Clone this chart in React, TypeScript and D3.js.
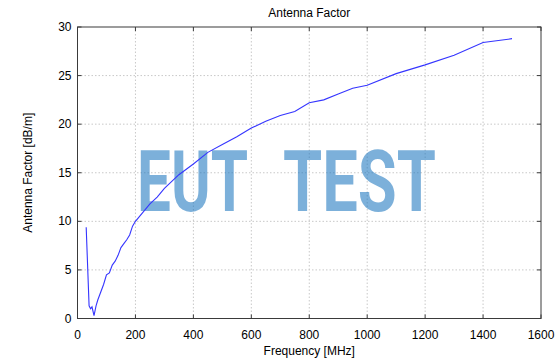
import React from "react";
import * as d3 from "d3";

const freqs = [30, 40, 45, 50, 57, 64, 70, 80, 90, 100, 110, 120, 130, 140, 150, 160, 170, 180, 190, 200, 225, 250, 275, 300, 350, 400, 450, 500, 550, 600, 650, 700, 750, 800, 850, 900, 950, 1000, 1100, 1200, 1300, 1400, 1500];
const antennaFactor = [9.4, 1.3, 1.0, 1.2, 0.3, 1.3, 1.9, 2.7, 3.5, 4.5, 4.7, 5.5, 5.9, 6.5, 7.3, 7.7, 8.1, 8.6, 9.5, 10.0, 10.9, 11.8, 12.5, 13.4, 14.8, 15.9, 17.1, 17.9, 18.7, 19.6, 20.3, 20.9, 21.3, 22.2, 22.5, 23.1, 23.7, 24.0, 25.2, 26.1, 27.1, 28.4, 28.8];
const xTicks = [0, 200, 400, 600, 800, 1000, 1200, 1400, 1600];
const yTicks = [0, 5, 10, 15, 20, 25, 30];
const watermarkWords = ["EUT", "TEST"];

const W = 560;
const H = 361;
const M = { left: 77.5, right: 541, top: 27, bottom: 318.5 };
const FONT = "'Liberation Sans', Arial, sans-serif";

export default function App() {
  const x = d3.scaleLinear().domain([0, 1600]).range([M.left, M.right]);
  const y = d3.scaleLinear().domain([0, 30]).range([M.bottom, M.top]);
  const data = freqs.map((f, i) => [f, antennaFactor[i]] as [number, number]);
  const line = d3
    .line<[number, number]>()
    .x((d) => x(d[0]))
    .y((d) => y(d[1]));
  const tk = 4;
  const wm = [
    { x: 137, w: 111 },
    { x: 283, w: 153 },
  ];

  return (
    <svg
      width={W}
      height={H}
      style={{ position: "absolute", left: 0, top: 0, background: "#fff" }}
      fontFamily={FONT}
    >
      <rect x={0} y={0} width={W} height={H} fill="#fff" />
      {/* grid */}
      <g stroke="#c8c8c8" strokeWidth={1} strokeDasharray="1.5,2">
        {xTicks.slice(1, -1).map((t) => (
          <line key={"gx" + t} x1={x(t)} x2={x(t)} y1={M.top} y2={M.bottom} />
        ))}
        {yTicks.slice(1, -1).map((t) => (
          <line key={"gy" + t} x1={M.left} x2={M.right} y1={y(t)} y2={y(t)} />
        ))}
      </g>
      {/* watermark */}
      {watermarkWords.map((wd, i) => (
        <text
          key={wd}
          x={wm[i].x}
          y={211}
          fontFamily="Roboto, 'DejaVu Sans Condensed', sans-serif"
          fontWeight={700}
          fontSize={85}
          fill="#1f78c0"
          opacity={0.58}
          textLength={wm[i].w}
          lengthAdjust="spacingAndGlyphs"
        >
          {wd}
        </text>
      ))}
      {/* curve */}
      <path d={line(data) || ""} fill="none" stroke="#3535ff" strokeWidth={1.1} />
      {/* frame */}
      <rect
        x={M.left}
        y={M.top}
        width={M.right - M.left}
        height={M.bottom - M.top}
        fill="none"
        stroke="#3a3a3a"
        strokeWidth={1}
      />
      {/* ticks */}
      <g stroke="#3a3a3a" strokeWidth={1}>
        {xTicks.map((t) => (
          <g key={"tx" + t}>
            <line x1={x(t)} x2={x(t)} y1={M.bottom} y2={M.bottom - tk} />
            <line x1={x(t)} x2={x(t)} y1={M.top} y2={M.top + tk} />
          </g>
        ))}
        {yTicks.map((t) => (
          <g key={"ty" + t}>
            <line x1={M.left} x2={M.left + tk} y1={y(t)} y2={y(t)} />
            <line x1={M.right} x2={M.right - tk} y1={y(t)} y2={y(t)} />
          </g>
        ))}
      </g>
      {/* tick labels */}
      <g fontSize={12} fill="#000">
        {xTicks.map((t) => (
          <text key={"lx" + t} x={x(t)} y={M.bottom + 20} textAnchor="middle">
            {t}
          </text>
        ))}
        {yTicks.map((t) => (
          <text key={"ly" + t} x={M.left - 6} y={y(t) + 4} textAnchor="end">
            {t}
          </text>
        ))}
      </g>
      {/* title & axis labels */}
      <text x={(M.left + M.right) / 2} y={17} textAnchor="middle" fontSize={12}>
        Antenna Factor
      </text>
      <text x={(M.left + M.right) / 2} y={355} textAnchor="middle" fontSize={12}>
        Frequency [MHz]
      </text>
      <text
        transform={`translate(32,${(M.top + M.bottom) / 2}) rotate(-90)`}
        textAnchor="middle"
        fontSize={12}
      >
        Antenna Factor [dB/m]
      </text>
    </svg>
  );
}
